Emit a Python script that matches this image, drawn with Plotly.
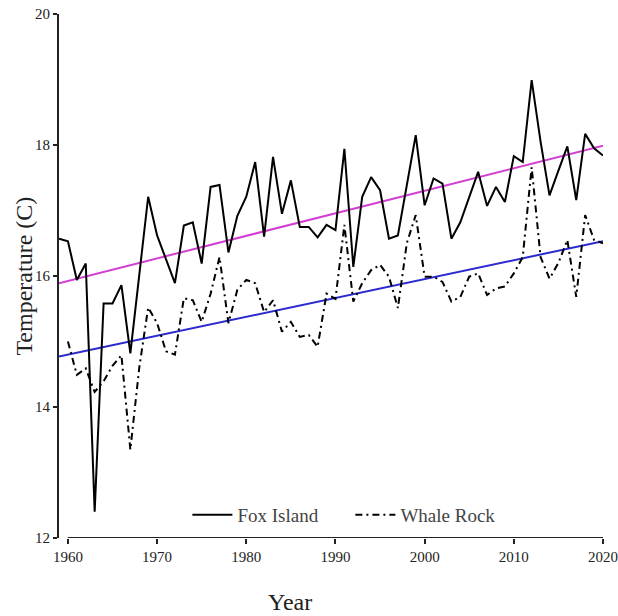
import plotly.graph_objects as go

fox_years = list(range(1959, 2021))
fox_temp = [16.57, 16.53, 15.94, 16.19, 12.40, 15.58, 15.58, 15.86, 14.82, 16.00,
            17.21, 16.62, 16.25, 15.89, 16.77, 16.82, 16.19, 17.36, 17.39, 16.36,
            16.92, 17.21, 17.74, 16.60, 17.82, 16.95, 17.46, 16.75, 16.75, 16.59,
            16.78, 16.70, 17.94, 16.14, 17.21, 17.51, 17.31, 16.57, 16.62, 17.40,
            18.15, 17.08, 17.49, 17.41, 16.57, 16.82, 17.22, 17.59, 17.07, 17.36,
            17.13, 17.83, 17.74, 18.99, 18.05, 17.23, 17.61, 17.98, 17.16, 18.17,
            17.95, 17.84]

whale_years = list(range(1960, 2021))
whale_temp = [15.00, 14.49, 14.59, 14.23, 14.39, 14.63, 14.79, 13.35, 14.60, 15.52,
              15.28, 14.85, 14.80, 15.66, 15.63, 15.30, 15.73, 16.29, 15.28, 15.79,
              15.94, 15.89, 15.45, 15.63, 15.15, 15.30, 15.07, 15.10, 14.92, 15.73,
              15.65, 16.78, 15.61, 15.89, 16.09, 16.17, 15.99, 15.51, 16.50, 16.93,
              15.99, 15.99, 15.91, 15.61, 15.68, 15.99, 16.04, 15.71, 15.81, 15.84,
              16.04, 16.29, 17.66, 16.29, 15.96, 16.20, 16.55, 15.68, 16.93, 16.55,
              16.50]

trend_years = [1959, 2020]
fox_trend = [15.89, 17.99]
whale_trend = [14.77, 16.53]

x_ticks = [1960, 1970, 1980, 1990, 2000, 2010, 2020]
y_ticks = [12, 14, 16, 18, 20]

FONT = "Liberation Serif"

fig = go.Figure()
fig.add_trace(go.Scatter(x=trend_years, y=fox_trend, mode="lines",
                         line=dict(color="#d23fd2", width=2), showlegend=False,
                         hoverinfo="skip"))
fig.add_trace(go.Scatter(x=trend_years, y=whale_trend, mode="lines",
                         line=dict(color="#2a2ad0", width=2), showlegend=False,
                         hoverinfo="skip"))
fig.add_trace(go.Scatter(x=fox_years, y=fox_temp, mode="lines", name="Fox Island",
                         line=dict(color="black", width=2)))
fig.add_trace(go.Scatter(x=whale_years, y=whale_temp, mode="lines", name="Whale Rock",
                         line=dict(color="black", width=2, dash="7px,4px,2px,4px")))

fig.update_layout(
    width=618, height=616,
    margin=dict(l=59, r=15, t=13.5, b=78, autoexpand=False),
    paper_bgcolor="white", plot_bgcolor="white",
    font=dict(family=FONT, size=15, color="#222"),
    showlegend=True,
    legend=dict(orientation="h", x=0.236, y=0.044, xanchor="left", yanchor="middle",
                font=dict(family=FONT, size=19, color="#444"),
                bgcolor="rgba(0,0,0,0)", itemwidth=40, entrywidth=108),
    xaxis=dict(range=[1959, 2020], tickvals=x_ticks, ticks="outside", ticklen=5,
               tickwidth=1.5, tickcolor="#222", showline=False, showgrid=False,
               zeroline=False, ticklabeloverflow="allow",
               tickfont=dict(family=FONT, size=15, color="#222")),
    yaxis=dict(range=[12, 20], tickvals=y_ticks, ticks="outside", ticklen=4,
               tickwidth=1.5, tickcolor="#222", showline=True, linecolor="#222",
               linewidth=2, showgrid=False, zeroline=False, ticklabeloverflow="allow",
               tickfont=dict(family=FONT, size=15, color="#222")),
    shapes=[dict(type="line", xref="x", yref="y", x0=x_ticks[0], x1=x_ticks[-1],
                 y0=y_ticks[0], y1=y_ticks[0], line=dict(color="#222", width=2))],
    annotations=[
        dict(text="Year", xref="paper", yref="paper", x=0.425, y=-0.122,
             xanchor="center", yanchor="middle", showarrow=False,
             font=dict(family=FONT, size=24, color="#222")),
        dict(text="Temperature (C)", xref="paper", yref="paper", x=-0.066, y=0.499,
             xanchor="center", yanchor="middle", showarrow=False, textangle=-90,
             font=dict(family=FONT, size=24, color="#222")),
    ],
)

fig.write_html("out.html", config={"displayModeBar": False},
               post_script="document.body.style.margin='0px';")
